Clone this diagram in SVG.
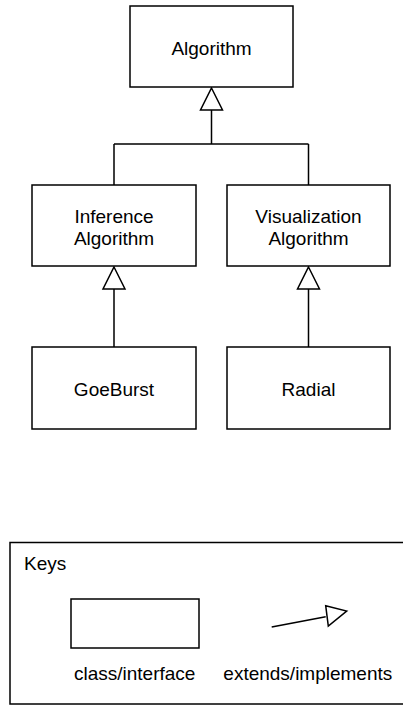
<svg xmlns="http://www.w3.org/2000/svg" width="403" height="705" viewBox="0 0 403 705">
<style>
.box{fill:#fff;stroke:#000;stroke-width:1.5}
.ln{fill:none;stroke:#000;stroke-width:1.5}
.tri{fill:#fff;stroke:#000;stroke-width:1.5;stroke-linejoin:miter}
text{font-family:"Liberation Sans",Arial,sans-serif;font-size:19px;fill:#000}
.c{text-anchor:middle}
</style>
<rect width="403" height="705" fill="#fff"/>
<g id="connectors">
<path class="ln" d="M211.5 110 V144 M114 144 H308.5 M114 144 V185 M308.5 144 V185"/>
<polygon class="tri" points="211.5,88 222.5,110 200.5,110"/>
<path class="ln" d="M114 289 V347 M308.5 289 V347"/>
<polygon class="tri" points="114,267 125,289 103,289"/>
<polygon class="tri" points="308.5,267 319.5,289 297.5,289"/>
</g>
<g id="algorithm">
<rect class="box" x="130" y="6" width="163" height="81"/>
<text class="c" x="211.5" y="55">Algorithm</text>
</g>
<g id="inference">
<rect class="box" x="32" y="185" width="164" height="81"/>
<text class="c" x="114" y="222.5">Inference</text>
<text class="c" x="114" y="244.5">Algorithm</text>
</g>
<g id="visualization">
<rect class="box" x="227" y="185" width="163" height="81"/>
<text class="c" x="308.5" y="222.5">Visualization</text>
<text class="c" x="308.5" y="244.5">Algorithm</text>
</g>
<g id="goeburst">
<rect class="box" x="32" y="347" width="164" height="82"/>
<text class="c" x="114" y="395.5">GoeBurst</text>
</g>
<g id="radial">
<rect class="box" x="227" y="347" width="163" height="82"/>
<text class="c" x="308.5" y="395.5">Radial</text>
</g>
<g id="keys">
<rect class="box" x="10" y="542.5" width="400" height="161.5"/>
<text x="24" y="570">Keys</text>
<rect class="box" x="71" y="599" width="128" height="49"/>
<text class="c" x="134.7" y="679.5">class/interface</text>
<path class="ln" d="M271.7 627 L325.7 616.7"/>
<polygon class="tri" points="325.7,605.7 346.7,611 328.3,626"/>
<text class="c" x="307.8" y="679.5">extends/implements</text>
</g>
</svg>
